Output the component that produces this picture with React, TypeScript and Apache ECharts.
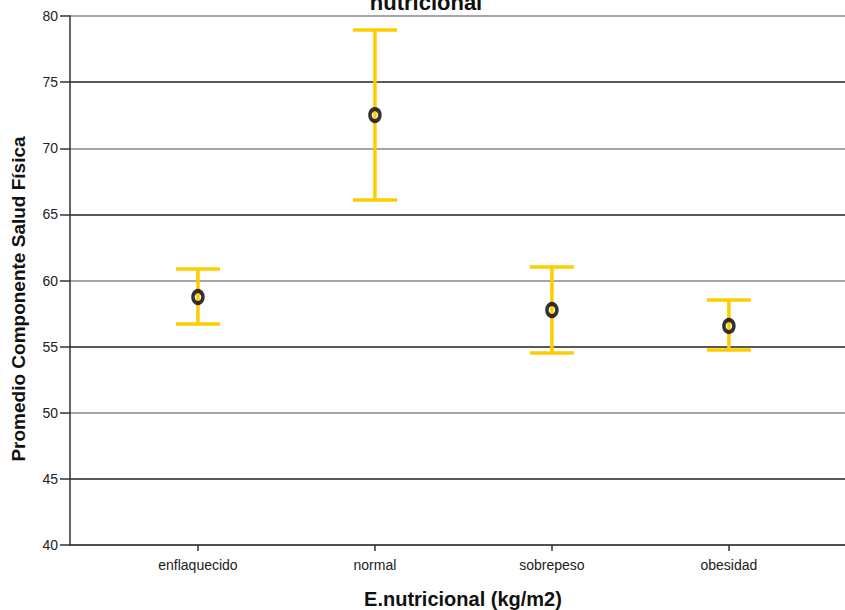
import React, { useEffect, useRef } from "react";
import * as echarts from "echarts";

const categories = ["enflaquecido", "normal", "sobrepeso", "obesidad"];
const means = [58.75, 72.51, 57.77, 56.56];
const lowers = [56.71, 66.09, 54.52, 54.74];
const uppers = [60.87, 78.94, 61.02, 58.53];
const yTicks = [40, 45, 50, 55, 60, 65, 70, 75, 80];

const FONT = "Liberation Sans, Arial, sans-serif";

export default function App() {
  const ref = useRef<HTMLDivElement>(null);
  useEffect(() => {
    if (!ref.current) return;
    const chart = echarts.init(ref.current, null, { renderer: "svg" });
    const positions = categories.map((_, i) => i + 1);
    const errData = positions.map((p, i) => [p, lowers[i], uppers[i]]);
    const meanData = positions.map((p, i) => [p, means[i]]);
    chart.setOption({
      animation: false,
      backgroundColor: "#ffffff",
      textStyle: { fontFamily: FONT },
      grid: { left: 70, right: 0, top: 16, bottom: 65 },
      xAxis: {
        type: "value",
        min: 0.277,
        max: 4.656,
        axisLine: { show: true, lineStyle: { color: "#333", width: 1.5 } },
        axisTick: {
          show: true,
          customValues: positions,
          length: 6,
          lineStyle: { color: "#333", width: 1.5 },
        },
        axisLabel: {
          customValues: positions,
          formatter: (v: number) => categories[Math.round(v) - 1] ?? "",
          color: "#222",
          fontSize: 14,
          fontFamily: FONT,
          margin: 13,
        },
        splitLine: { show: false },
      },
      yAxis: {
        type: "value",
        min: yTicks[0],
        max: yTicks[yTicks.length - 1],
        interval: 5,
        axisLine: { show: true, lineStyle: { color: "#333", width: 1.5 } },
        axisTick: { show: true, length: 10, lineStyle: { color: "#333", width: 1.5 } },
        axisLabel: { color: "#222", fontSize: 14, fontFamily: FONT, margin: 12 },
        splitLine: {
          show: true,
          lineStyle: { color: ["#888888", "#222222"], width: 1.5 },
        },
      },
      graphic: [
        {
          type: "text",
          x: 426,
          y: 13,
          style: {
            text: "nutricional",
            font: `bold 22px ${FONT}`,
            fill: "#111",
            align: "center",
            verticalAlign: "bottom",
          },
        },
        {
          type: "text",
          x: 18,
          y: 299,
          rotation: Math.PI / 2,
          style: {
            text: "Promedio Componente Salud Física",
            font: `bold 19px ${FONT}`,
            fill: "#111",
            align: "center",
            verticalAlign: "middle",
          },
        },
        {
          type: "text",
          x: 463,
          y: 599,
          style: {
            text: "E.nutricional (kg/m2)",
            font: `bold 20px ${FONT}`,
            fill: "#111",
            align: "center",
            verticalAlign: "middle",
          },
        },
      ],
      series: [
        {
          type: "custom",
          data: errData,
          encode: { x: 0, y: [1, 2] },
          renderItem: (params: any, api: any) => {
            const x = api.value(0);
            const lo = api.coord([x, api.value(1)]);
            const hi = api.coord([x, api.value(2)]);
            const half = 22;
            const style = { stroke: "#FFCC00", lineWidth: 3.5 };
            return {
              type: "group",
              children: [
                { type: "line", shape: { x1: lo[0], y1: lo[1], x2: hi[0], y2: hi[1] }, style },
                { type: "line", shape: { x1: hi[0] - half, y1: hi[1], x2: hi[0] + half, y2: hi[1] }, style },
                { type: "line", shape: { x1: lo[0] - half, y1: lo[1], x2: lo[0] + half, y2: lo[1] }, style },
              ],
            };
          },
          z: 2,
        },
        {
          type: "scatter",
          data: meanData,
          symbol: "circle",
          symbolSize: [10, 12],
          itemStyle: { color: "rgba(0,0,0,0)", borderColor: "#000", borderWidth: 3.8 },
          z: 3,
        },
      ],
    });
    return () => chart.dispose();
  }, []);
  return (
    <div
      ref={ref}
      style={{ position: "absolute", left: 0, top: 0, width: 845, height: 610 }}
    />
  );
}
